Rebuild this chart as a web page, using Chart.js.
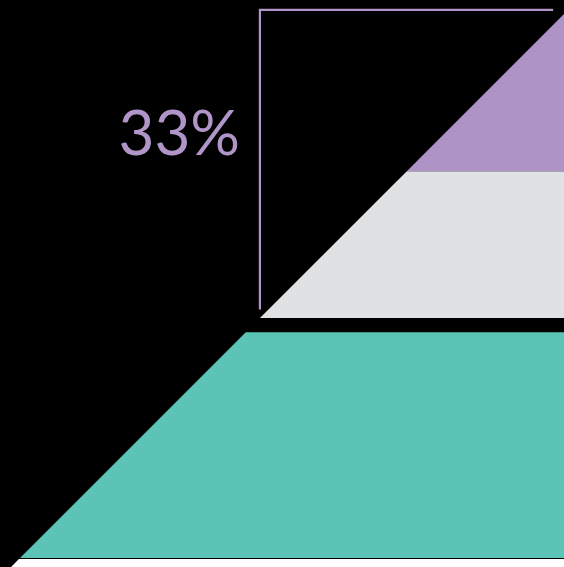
<!DOCTYPE html>
<html>
<head>
<meta charset="utf-8">
<script src="https://cdn.jsdelivr.net/npm/chart.js@4"></script>
<style>
  html, body { margin: 0; padding: 0; background: #000; }
  canvas { display: block; }
</style>
</head>
<body>
<canvas id="chart" width="564" height="567"></canvas>
<script>
// bands of the pyramid, measured as depth from the apex (0 = apex, 100 = base of the teal band)
const bandNames = ['Top', 'Upper', 'Lower', 'Base'];
const bandStart = [0, 28.9, 58.5, 100.2];
const bandEnd = [28.9, 55.9, 100, 104];
const calloutText = '33%';

const bandColors = ['#ae93c6', '#e0e1e2', '#5bc4b7', '#ffffff'];
const purple = '#b096c8';

function bandPolygon(a, b) {
  // left edge follows the 45 degree side, right edge is the axis (x = 0)
  return [{ x: a, y: a }, { x: b, y: b }, { x: 0, y: b }, { x: 0, y: a }, { x: a, y: a }];
}

const datasets = bandNames.map((name, i) => ({
  label: name,
  data: bandPolygon(bandStart[i], bandEnd[i]),
  showLine: true,
  fill: 'shape',
  backgroundColor: bandColors[i],
  borderWidth: 0,
  pointRadius: 0,
  tension: 0
}));

// bracket around the top two bands
const bracketDepth = bandEnd[1];
datasets.push({
  label: 'bracket',
  data: [{ x: 2, y: -0.75 }, { x: bracketDepth, y: -0.75 }, { x: bracketDepth, y: bracketDepth - 1.6 }],
  showLine: true,
  fill: false,
  borderColor: purple,
  borderWidth: 2.2,
  pointRadius: 0,
  tension: 0
});

const calloutPlugin = {
  id: 'callout',
  afterDatasetsDraw(chart) {
    const { ctx, scales } = chart;
    ctx.save();
    ctx.fillStyle = purple;
    ctx.font = '400 62px Lato, "Open Sans", sans-serif';
    ctx.textAlign = 'right';
    ctx.textBaseline = 'alphabetic';
    ctx.fillText(calloutText, scales.x.getPixelForValue(bracketDepth + 3.65), scales.y.getPixelForValue(26));
    ctx.restore();
  }
};

new Chart(document.getElementById('chart'), {
  type: 'scatter',
  data: { datasets },
  options: {
    responsive: false,
    animation: false,
    events: [],
    layout: { padding: 0 },
    plugins: { legend: { display: false }, tooltip: { enabled: false } },
    scales: {
      x: { type: 'linear', reverse: true, min: 0, max: 103.68, display: false },
      y: { type: 'linear', reverse: true, min: -2.57, max: 101.65, display: false }
    }
  },
  plugins: [calloutPlugin]
});
</script>
</body>
</html>
